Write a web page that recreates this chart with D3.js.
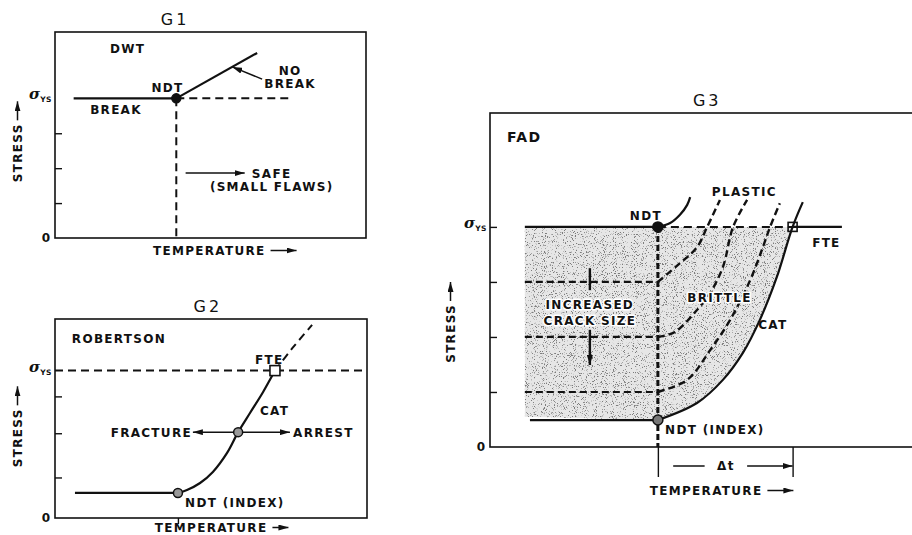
<!DOCTYPE html>
<html>
<head>
<meta charset="utf-8">
<script src="https://cdn.jsdelivr.net/npm/d3@7"></script>
<style>
  body { margin: 0; background: #fff; }
  svg text { font-family: "DejaVu Sans", "Liberation Sans", sans-serif; font-weight: bold; fill: #111; }
  .lbl { font-size: 12px; letter-spacing: 1.3px; }
  .title { font-size: 16px; letter-spacing: 3px; font-weight: normal; }
  .sigma { font-family: "DejaVu Serif", serif; font-style: italic; font-weight: bold; font-size: 15px; }
  .sub { font-size: 7.5px; letter-spacing: 0.5px; }
  .halo { paint-order: stroke; stroke: #fff; stroke-width: 3px; stroke-linejoin: round; }
  .solid { fill: none; stroke: #111; stroke-width: 2.2; }
  .dash { fill: none; stroke: #111; stroke-width: 2; stroke-dasharray: 8 5; }
  .thin { fill: none; stroke: #111; stroke-width: 1.5; }
  .frame { fill: none; stroke: #111; stroke-width: 1.6; }
  .tick line { stroke: #111; stroke-width: 1.4; }
</style>
</head>
<body>
<svg id="chart"></svg>
<script>
// temperature runs 0..100 across each frame, stress in arbitrary units (yield = 4)

// ---- G1 : DWT ----
const g1Ticks = [1, 2, 3];
const g1Yield = 4;
const g1Ndt = [39, 4];
const g1Break = [[6, 4], [39, 4]];
const g1NoBreak = [[39, 4], [65, 5.3]];
const g1YieldDash = [[39, 4], [75, 4]];
const g1NdtDrop = [[39, 4], [39, 0]];
const g1SafeArrow = [[42, 1.86], [61, 1.86]];
const g1NoBreakPointer = [[66.6, 4.55], [57, 4.9]];
const g1Labels = [
  { text: 'DWT', x: 17.7, y: 5.3 },
  { text: 'NDT', x: 31, y: 4.18 },
  { text: 'BREAK', x: 11.3, y: 3.55 },
  { text: 'NO', x: 75.6, y: 4.67, anchor: 'middle' },
  { text: 'BREAK', x: 75.6, y: 4.3, anchor: 'middle' },
  { text: 'SAFE', x: 63.3, y: 1.72 },
  { text: '(SMALL FLAWS)', x: 49.8, y: 1.35 }
];

// ---- G2 : Robertson ----
const g2Ticks = [1.1, 2.3, 3.3];
const g2Yield = 4;
const g2Shelf = [[6.4, 0.68], [39.4, 0.68]];
const g2Cat = [[39.4, 0.68], [42.3, 0.76], [46.5, 0.95], [50.6, 1.25], [55.1, 1.76],
               [58.7, 2.33], [62.5, 2.85], [66.7, 3.42], [70.5, 4.0]];
const g2CatAbove = [[70.5, 4.0], [76, 4.6], [82.4, 5.24]];
const g2YieldDash = [[0, 4], [100, 4]];
const g2Ndt = [39.4, 0.68];
const g2Arrest = [58.7, 2.33];
const g2Fte = [70.5, 4.0];
const g2FractureArrow = [[58.7, 2.33], [44.2, 2.33]];
const g2ArrestArrow = [[58.7, 2.33], [75.3, 2.33]];
const g2Labels = [
  { text: 'ROBERTSON', x: 5.4, y: 4.75 },
  { text: 'FTE', x: 64.1, y: 4.18 },
  { text: 'CAT', x: 65.7, y: 2.8 },
  { text: 'FRACTURE', x: 43.9, y: 2.2, anchor: 'end' },
  { text: 'ARREST', x: 76.3, y: 2.2 },
  { text: 'NDT (INDEX)', x: 41.7, y: 0.3 }
];

// ---- G3 : FAD ----
const g3Ticks = [1, 2, 3, 4];
const g3Yield = 4;
const g3YieldSolidL = [[8.2, 4], [39.5, 4]];
const g3YieldDash = [[39.5, 4], [71.2, 4]];
const g3YieldSolidR = [[71.2, 4], [82.8, 4]];
const g3IndexLine = [[9.4, 0.49], [39.5, 0.49]];
const g3NdtDrop = [[39.5, 4], [39.5, 0]];
const g3CrackLevels = [3, 2, 1];
const g3CrackStart = 8.2;
const g3Cat = [[39.5, 0.49], [48.7, 0.8], [54.8, 1.22], [59.5, 1.71], [63.5, 2.31],
               [67.5, 3.09], [71.2, 4.0], [73.6, 4.45]];
const g3Plastic = [[39.5, 4.0], [42.4, 4.07], [44.7, 4.22], [46.4, 4.4], [47.1, 4.54]];
const g3Crack1 = [[39.5, 3.0], [44.7, 3.34], [48.7, 3.63], [51.1, 4.0], [54.1, 4.49]];
const g3Crack2 = [[39.5, 2.0], [43.5, 2.09], [48.7, 2.49], [51.8, 2.8], [54.8, 3.27], [57.2, 4.0], [60.5, 4.49]];
const g3Crack3 = [[39.5, 1.0], [46.4, 1.22], [51.8, 1.76], [56.5, 2.31], [61.2, 3.03], [64.2, 3.63], [65.9, 4.0], [68.2, 4.43]];
const g3NdtTop = [39.5, 4];
const g3NdtIndex = [39.5, 0.49];
const g3Fte = [71.2, 4];
const g3CrackArrowTop = [[23.5, 3.25], [23.5, 2.85]];
const g3CrackArrow = [[23.5, 2.13], [23.5, 1.49]];
const g3DeltaT = [43.1, 50.5, 60.5, 71.2];   // left dash start/end, right arrow start/end
const g3Labels = [
  { text: 'FAD', x: 4.0, y: 5.54, size: 14 },
  { text: 'NDT', x: 32.9, y: 4.13 },
  { text: 'PLASTIC', x: 52.2, y: 4.56 },
  { text: 'FTE', x: 75.8, y: 3.64 },
  { text: 'BRITTLE', x: 46.4, y: 2.64, halo: true },
  { text: 'CAT', x: 63.1, y: 2.15 },
  { text: 'NDT (INDEX)', x: 41.2, y: 0.24 },
  { text: 'INCREASED', x: 23.5, y: 2.51, anchor: 'middle', halo: true },
  { text: 'CRACK SIZE', x: 23.5, y: 2.22, anchor: 'middle', halo: true }
];

const svg = d3.select('#chart').attr('width', 912).attr('height', 535);
const defs = svg.append('defs');

defs.append('marker')
  .attr('id', 'arrow')
  .attr('viewBox', '0 0 10 6')
  .attr('refX', 10).attr('refY', 3)
  .attr('markerWidth', 10).attr('markerHeight', 6)
  .attr('markerUnits', 'userSpaceOnUse')
  .attr('orient', 'auto')
  .append('path').attr('d', 'M0,0L10,3L0,6Z').attr('fill', '#111');

// speckle for the stippled area
const speckle = defs.append('filter').attr('id', 'speckle')
  .attr('x', 0).attr('y', 0).attr('width', 1).attr('height', 1);
speckle.append('feTurbulence')
  .attr('type', 'fractalNoise').attr('baseFrequency', 0.9).attr('numOctaves', 2).attr('seed', 7)
  .attr('result', 'noise');
speckle.append('feColorMatrix').attr('in', 'noise').attr('type', 'matrix')
  .attr('values', '0 0 0 0 0.2  0 0 0 0 0.2  0 0 0 0 0.2  9 0 0 0 -5.3')
  .attr('result', 'dots');
speckle.append('feComposite').attr('in', 'dots').attr('in2', 'SourceGraphic').attr('operator', 'in');


class Panel {

  constructor(_config) {
    this.config = {
      box: _config.box,
      yDomain: _config.yDomain,
      ticks: _config.ticks,
      yieldLevel: _config.yieldLevel,
      title: _config.title,
      titleX: _config.titleX,
      stressX: _config.stressX,
      stressY: _config.stressY
    };
    this.initVis();
  }

  initVis() {
    let vis = this;
    const b = vis.config.box;

    vis.x = d3.scaleLinear().domain([0, 100]).range([b.left, b.right]);
    vis.y = d3.scaleLinear().domain(vis.config.yDomain).range([b.bottom, b.top]);

    vis.line = d3.line().x(d => vis.x(d[0])).y(d => vis.y(d[1]));
    vis.curve = d3.line().curve(d3.curveCatmullRom.alpha(0.5)).x(d => vis.x(d[0])).y(d => vis.y(d[1]));

    vis.g = svg.append('g');
    vis.back = vis.g.append('g');

    vis.g.append('rect')
      .attr('class', 'frame')
      .attr('x', b.left).attr('y', b.top)
      .attr('width', b.right - b.left).attr('height', b.bottom - b.top);

    vis.g.append('g')
      .attr('class', 'tick')
      .attr('transform', `translate(${b.left},0)`)
      .call(d3.axisLeft(vis.y).tickValues(vis.config.ticks).tickSize(-7).tickFormat(''))
      .call(g => g.select('.domain').remove());

    vis.g.append('text')
      .attr('class', 'title')
      .attr('x', vis.x(vis.config.titleX)).attr('y', b.top - 7)
      .attr('text-anchor', 'middle')
      .text(vis.config.title);

    vis.g.append('text')
      .attr('class', 'lbl')
      .style('letter-spacing', '0px')
      .attr('x', b.left - 5).attr('y', vis.y(0) + 4)
      .attr('text-anchor', 'end')
      .text('0');

    const s = vis.g.append('text')
      .attr('x', b.left - 3).attr('y', vis.y(vis.config.yieldLevel) + 1)
      .attr('text-anchor', 'end');
    s.append('tspan').attr('class', 'sigma').text('σ');
    s.append('tspan').attr('class', 'sub').attr('dy', 3).text('YS');

    // STRESS ->
    const sy = vis.y(vis.config.stressY);
    const st = vis.g.append('text')
      .attr('class', 'lbl')
      .attr('transform', `translate(${vis.config.stressX},${sy}) rotate(-90)`)
      .text('STRESS');
    const w = st.node().getComputedTextLength();
    vis.g.append('line')
      .attr('class', 'thin')
      .attr('x1', vis.config.stressX - 4.5).attr('x2', vis.config.stressX - 4.5)
      .attr('y1', sy - w - 3).attr('y2', sy - w - 22)
      .attr('marker-end', 'url(#arrow)');
  }

  path(points, cls, curved) {
    let vis = this;
    return vis.g.append('path')
      .attr('class', cls)
      .attr('d', curved ? vis.curve(points) : vis.line(points));
  }

  arrow(points) {
    let vis = this;
    return vis.path(points, 'thin').attr('marker-end', 'url(#arrow)');
  }

  labels(list) {
    let vis = this;
    vis.g.selectAll(null).data(list).join('text')
      .attr('class', d => d.halo ? 'lbl halo' : 'lbl')
      .attr('x', d => vis.x(d.x)).attr('y', d => vis.y(d.y))
      .attr('text-anchor', d => d.anchor || 'start')
      .style('font-size', d => d.size ? d.size + 'px' : null)
      .text(d => d.text);
  }

  dot(p, r, fill) {
    let vis = this;
    vis.g.append('circle')
      .attr('cx', vis.x(p[0])).attr('cy', vis.y(p[1])).attr('r', r)
      .attr('fill', fill).attr('stroke', '#111').attr('stroke-width', 1.5);
  }

  square(p, size, fill) {
    let vis = this;
    vis.g.append('rect')
      .attr('x', vis.x(p[0]) - size / 2).attr('y', vis.y(p[1]) - size / 2)
      .attr('width', size).attr('height', size)
      .attr('fill', fill).attr('stroke', '#111').attr('stroke-width', 1.6);
  }

  temperature(xv, dy, arrowLen) {
    let vis = this;
    const t = vis.g.append('text')
      .attr('class', 'lbl')
      .attr('x', vis.x(xv)).attr('y', vis.y(0) + dy)
      .text('TEMPERATURE');
    const w = t.node().getComputedTextLength();
    const x0 = vis.x(xv) + w + 5;
    vis.g.append('line')
      .attr('class', 'thin')
      .attr('x1', x0).attr('x2', x0 + arrowLen)
      .attr('y1', vis.y(0) + dy - 4.5).attr('y2', vis.y(0) + dy - 4.5)
      .attr('marker-end', 'url(#arrow)');
  }

  bottomTicks(values, size) {
    let vis = this;
    vis.g.append('g')
      .attr('class', 'tick')
      .attr('transform', `translate(0,${vis.y(0)})`)
      .call(d3.axisBottom(vis.x).tickValues(values).tickSize(size).tickFormat(''))
      .call(g => g.select('.domain').remove());
  }
}


// G1
const g1 = new Panel({
  box: { left: 55, right: 366, top: 32, bottom: 238 },
  yDomain: [0, 5.9], ticks: g1Ticks, yieldLevel: g1Yield,
  title: 'G1', titleX: 38.6, stressX: 22, stressY: 1.6
});
g1.path(g1Break, 'solid');
g1.path(g1NoBreak, 'solid');
g1.path(g1YieldDash, 'dash');
g1.path(g1NdtDrop, 'dash');
g1.arrow(g1SafeArrow);
g1.arrow(g1NoBreakPointer);
g1.dot(g1Ndt, 4.5, '#111');
g1.labels(g1Labels);
g1.temperature(31.5, 17, 26);

// G2
const g2 = new Panel({
  box: { left: 55, right: 367, top: 319, bottom: 518 },
  yDomain: [0, 5.4], ticks: g2Ticks, yieldLevel: g2Yield,
  title: 'G2', titleX: 49, stressX: 22, stressY: 1.38
});
g2.path(g2YieldDash, 'dash');
g2.path(g2Shelf, 'solid');
g2.path(g2Cat, 'solid', true);
g2.path(g2CatAbove, 'dash', true);
g2.arrow(g2FractureArrow);
g2.arrow(g2ArrestArrow);
g2.bottomTicks([g2Ndt[0]], 6);
g2.dot(g2Ndt, 4.5, '#999');
g2.dot(g2Arrest, 4.5, '#999');
g2.square(g2Fte, 10, '#fff');
g2.labels(g2Labels);
g2.temperature(32, 14, 16);

// G3
const g3 = new Panel({
  box: { left: 490, right: 915, top: 113, bottom: 447 },
  yDomain: [0, 6.07], ticks: g3Ticks, yieldLevel: g3Yield,
  title: 'G3', titleX: 51.1, stressX: 455, stressY: 1.53
});

// stippled zone under the yield line, left of CAT
const zone = [[g3CrackStart, 4]].concat(g3Cat.filter(d => d[1] <= 4).reverse(), [[g3CrackStart, 0.55]]);
g3.back.append('path').attr('d', g3.line(zone) + 'Z').attr('fill', '#e6e6e6');
g3.back.append('path').attr('d', g3.line(zone) + 'Z').attr('fill', '#000').attr('filter', 'url(#speckle)');

g3.path(g3YieldSolidL, 'solid');
g3.path(g3YieldDash, 'dash');
g3.path(g3YieldSolidR, 'solid');
g3.path(g3IndexLine, 'solid');
g3.path(g3NdtDrop, 'dash').style('stroke-width', 3).style('stroke-dasharray', '6 3');
g3CrackLevels.forEach(v => g3.path([[g3CrackStart, v], [g3NdtTop[0], v]], 'dash')
  .style('stroke-width', 2.2).style('stroke-dasharray', '7 4'));
g3.path(g3Cat, 'solid', true);
g3.path(g3Plastic, 'solid', true);
[g3Crack1, g3Crack2, g3Crack3].forEach(c => g3.path(c, 'dash', true).style('stroke-width', 2.4).style('stroke-dasharray', '7 4'));
g3.path(g3CrackArrowTop, 'solid').style('stroke-width', 2.4);
g3.path(g3CrackArrow, 'solid').style('stroke-width', 2.4).attr('marker-end', 'url(#arrow)');
g3.bottomTicks([g3NdtTop[0], g3Fte[0]], 30);
g3.dot(g3NdtTop, 5, '#111');
g3.dot(g3NdtIndex, 5, '#777');
g3.square(g3Fte, 9, 'none');
g3.labels(g3Labels);

// delta t under the axis
const dtY = g3.y(0) + 19;
g3.g.append('line').attr('class', 'thin')
  .attr('x1', g3.x(g3DeltaT[0])).attr('x2', g3.x(g3DeltaT[1])).attr('y1', dtY).attr('y2', dtY);
g3.g.append('line').attr('class', 'thin')
  .attr('x1', g3.x(g3DeltaT[2])).attr('x2', g3.x(g3DeltaT[3])).attr('y1', dtY).attr('y2', dtY)
  .attr('marker-end', 'url(#arrow)');
g3.g.append('text').attr('class', 'lbl')
  .attr('x', g3.x((g3DeltaT[1] + g3DeltaT[2]) / 2)).attr('y', dtY + 4)
  .attr('text-anchor', 'middle')
  .text('Δt');
g3.temperature(37.6, 48, 26);
</script>
</body>
</html>
